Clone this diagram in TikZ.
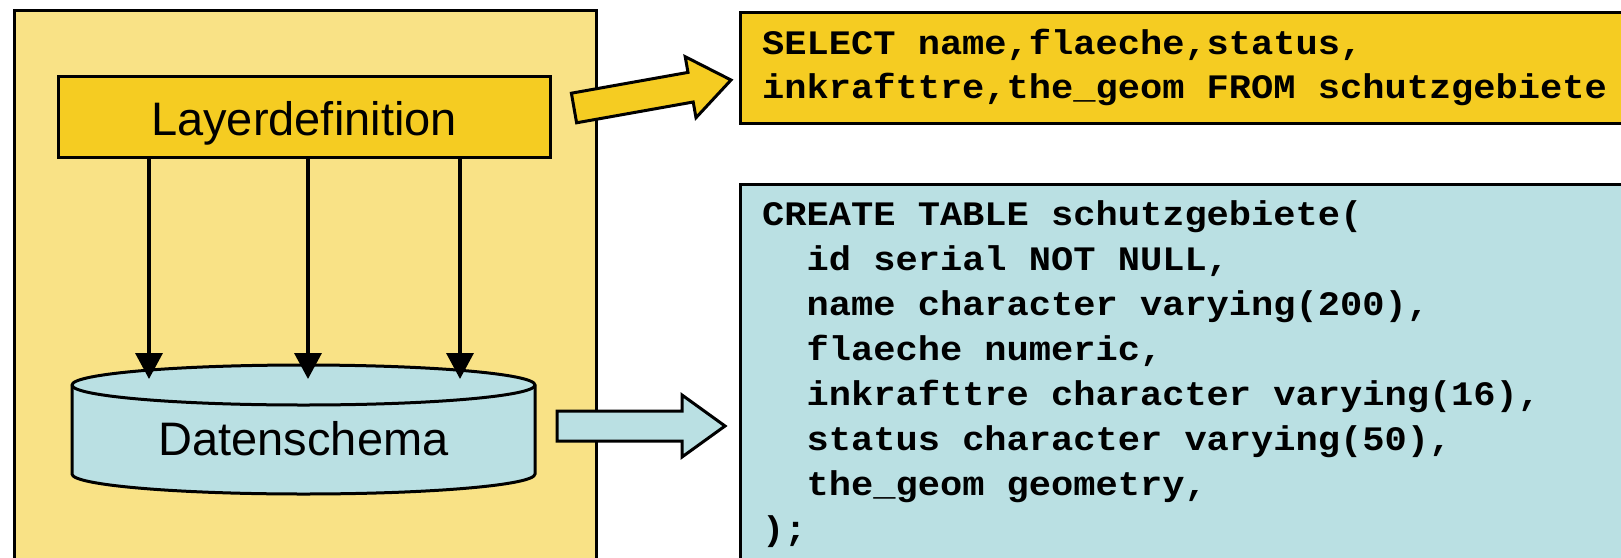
\documentclass[tikz,border=0pt]{standalone}
\usepackage{fontspec}
\setmainfont{Liberation Sans}
\newfontfamily\codefont{Liberation Mono}[FakeStretch=1.08]
\usetikzlibrary{arrows.meta}
\definecolor{paleyellow}{HTML}{F9E286}
\definecolor{gold}{HTML}{F5CC22}
\definecolor{paleblue}{HTML}{BAE0E3}
\begin{document}
\begin{tikzpicture}[x=1pt,y=-1pt,
  frame/.style={draw=black,line width=3pt},
  labelfont/.style={font=\fontsize{47}{56}\selectfont},
  codetext/.style={font=\fontsize{34.3}{45}\selectfont\codefont\bfseries,inner sep=0pt,anchor=base west},
  flow/.style={line width=3.5pt,-{Triangle[width=27pt,length=26pt]}},
  blockarrow/.style={draw=black,line width=3pt,line join=miter}]
\useasboundingbox (0,0) rectangle (1621,557);
% outer panel
\node[frame,fill=paleyellow,anchor=north west,inner sep=0pt,minimum width=582pt,minimum height=580pt] (outer) at (13,9) {};
% layer definition
\node[frame,fill=gold,inner sep=0pt,minimum width=492pt,minimum height=81pt,labelfont,text height=37pt,text depth=0pt] (layer) at (304,116.5) {Layerdefinition};
% cylinder
\draw[frame,fill=paleblue] (72,385) -- (72,474)
  arc[start angle=180,end angle=0,x radius=231.5,y radius=20] -- (535,385)
  arc[start angle=0,end angle=-180,x radius=231.5,y radius=20] -- cycle;
\draw[frame] (72,385) arc[start angle=180,end angle=0,x radius=231.5,y radius=20];
\node[labelfont,anchor=base,inner sep=0pt] (db) at (303.5,455) {Datenschema};
% arrows into schema
\coordinate (t1) at (149,379);
\coordinate (t2) at (308,379);
\coordinate (t3) at (460,379);
\draw[flow] (layer.south -| t1) -- (t1);
\draw[flow] (layer.south -| t2) -- (t2);
\draw[flow] (layer.south -| t3) -- (t3);
% block arrows
\draw[blockarrow,fill=gold] (571.4,93.2) -- (688,72.4) -- (685.2,56.7) -- (731,80) -- (696,117.7) -- (693.2,102) -- (576.6,122.8) -- cycle;
\draw[blockarrow,fill=paleblue] (557,411) -- (682,411) -- (682,395) -- (725,426) -- (682,457) -- (682,441) -- (557,441) -- cycle;
% SQL boxes
\node[frame,fill=gold,anchor=north west,inner sep=0pt,minimum width=920pt,minimum height=111pt] (selbox) at (739,11) {};
\node[codetext] (seltext) at (762,54) {\vtop{\baselineskip=44pt
  \hbox{SELECT name,flaeche,status,}
  \hbox{inkrafttre,the\_geom FROM schutzgebiete}}};
\node[frame,fill=paleblue,anchor=north west,inner sep=0pt,minimum width=920pt,minimum height=400pt] (crbox) at (739,183) {};
\node[codetext] (crtext) at (762,225) {\vtop{\baselineskip=45pt
  \hbox{CREATE TABLE schutzgebiete(}
  \hbox{\phantom{xx}id serial NOT NULL,}
  \hbox{\phantom{xx}name character varying(200),}
  \hbox{\phantom{xx}flaeche numeric,}
  \hbox{\phantom{xx}inkrafttre character varying(16),}
  \hbox{\phantom{xx}status character varying(50),}
  \hbox{\phantom{xx}the\_geom geometry,}
  \hbox{);}}};
\end{tikzpicture}
\end{document}
